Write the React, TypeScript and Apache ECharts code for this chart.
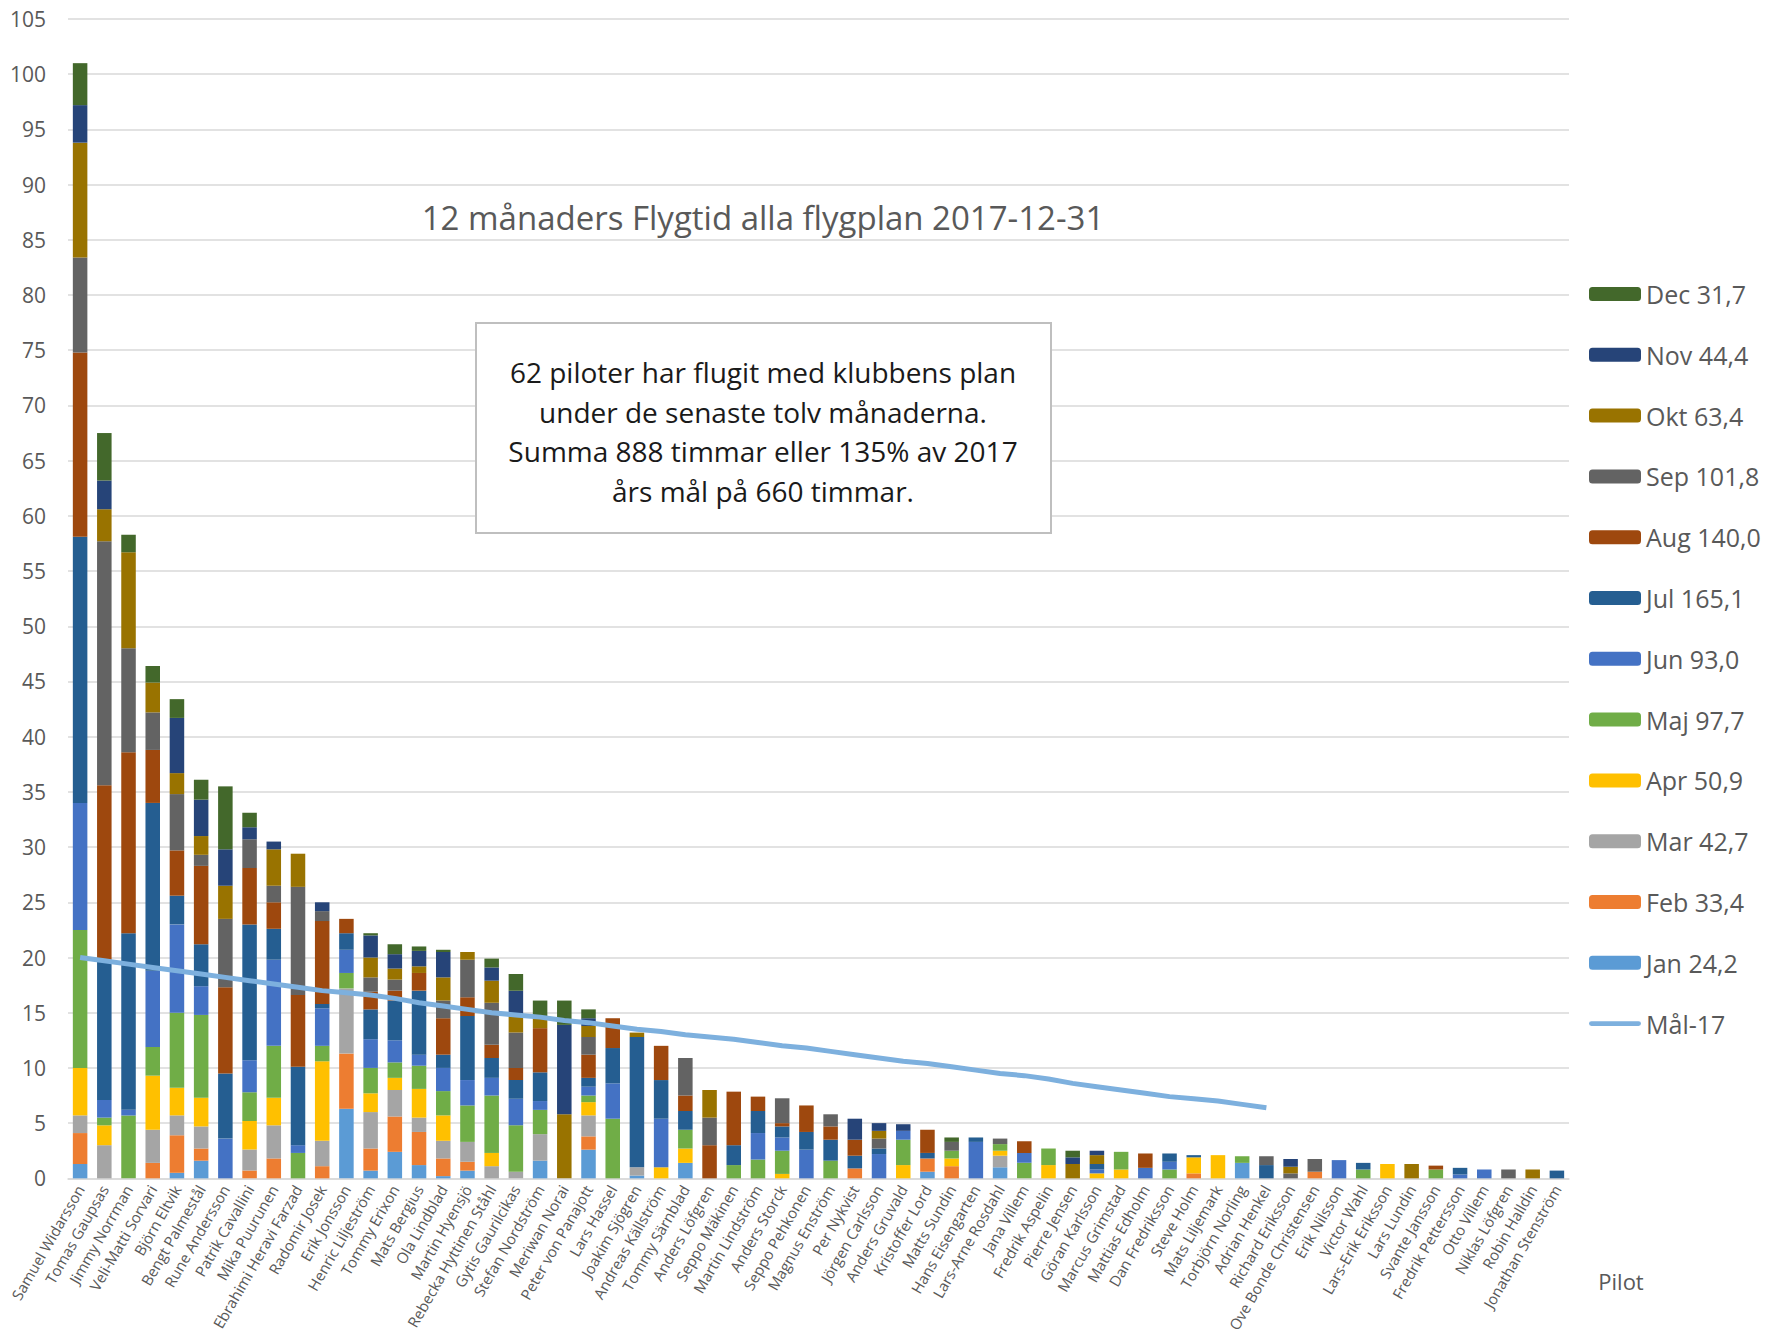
import React, { useEffect, useRef } from "react";
import * as echarts from "echarts";

const pilots = [
  "Samuel Widarsson", "Tomas Gaupsas", "Jimmy Norrman", "Veli-Matti Sorvari", "Björn Eltvik",
  "Bengt Palmestål", "Rune Andersson", "Patrik Cavallini", "Mika Puurunen", "Ebrahimi Heravi Farzad",
  "Radomir Josek", "Erik Jonsson", "Henric Liljeström", "Tommy Erixon", "Mats Bergius",
  "Ola Lindblad", "Martin Hyensjö", "Rebecka Hyttinen Ståhl", "Gytis Gaurilcikas", "Stefan Nordström",
  "Meriwan Norai", "Peter von Panajott", "Lars Hassel", "Joakim Sjögren", "Andreas Källström",
  "Tommy Särnblad", "Anders Löfgren", "Seppo Mäkinen", "Martin Lindström", "Anders Storck",
  "Seppo Pehkonen", "Magnus Enström", "Per Nykvist", "Jörgen Carlsson", "Anders Gruvald",
  "Kristoffer Lord", "Matts Sundin", "Hans Eisengarten", "Lars-Arne Rosdahl", "Jana Villem",
  "Fredrik Aspelin", "Pierre Jensen", "Göran Karlsson", "Marcus Grimstad", "Mattias Edholm",
  "Dan Fredriksson", "Steve Holm", "Mats Liljemark", "Torbjörn Norling", "Adrian Henkel",
  "Richard Eriksson", "Ove Bonde Christensen", "Erik Nilsson", "Victor Wahl", "Lars-Erik Eriksson",
  "Lars Lundin", "Svante Jansson", "Fredrik Pettersson", "Otto Villem", "Niklas Löfgren",
  "Robin Halldin", "Jonathan Stenström",
];

const jan = [
  1.3, 0, 0, 0, 0.5, 1.6, 0, 0, 0, 0,
  0, 6.3, 0.7, 2.4, 1.2, 0.2, 0.7, 0, 0, 1.6,
  0, 2.6, 0, 0.25, 0, 1.4, 0, 0, 0, 0,
  0, 0, 0, 0, 0, 0.6, 0, 0, 1.0, 0,
  0, 0, 0, 0, 0, 0, 0, 0, 1.4, 0,
  0, 0, 0, 0, 0, 0, 0, 0, 0, 0,
  0, 0,
];
const feb = [
  2.8, 0, 0, 1.4, 3.4, 1.1, 0, 0.7, 1.8, 0,
  1.1, 5.0, 2.0, 3.2, 3.0, 1.6, 0.8, 0, 0, 0,
  0, 1.2, 0, 0, 0, 0, 0, 0, 0, 0,
  0, 0, 0.9, 0, 0, 1.2, 1.1, 0, 0, 0,
  0, 0, 0, 0, 0, 0, 0.45, 0, 0, 0,
  0, 0.6, 0, 0, 0, 0, 0, 0, 0, 0,
  0, 0,
];
const mar = [
  1.6, 3.0, 0, 3.0, 1.8, 2.0, 0, 1.9, 3.0, 0,
  2.3, 5.9, 3.3, 2.4, 1.3, 1.6, 1.8, 1.1, 0.6, 2.4,
  0, 1.9, 0, 0.75, 0, 0, 0, 0, 0, 0,
  0, 0, 0, 0, 0, 0, 0, 0, 1.05, 0,
  0, 0, 0, 0, 0, 0, 0, 0, 0, 0,
  0, 0, 0, 0, 0, 0, 0, 0, 0, 0,
  0, 0,
];
const apr = [
  4.3, 1.8, 0, 4.9, 2.5, 2.6, 0, 2.6, 2.5, 0,
  7.2, 0, 1.7, 1.1, 2.6, 2.3, 0, 1.2, 0, 0,
  0, 1.2, 0, 0, 1.0, 1.3, 0, 0, 0, 0.4,
  0, 0, 0, 0, 1.2, 0, 0.7, 0, 0.45, 0,
  1.2, 0, 0.45, 0.8, 0, 0, 1.45, 2.1, 0, 0,
  0, 0, 0, 0, 1.3, 0, 0, 0, 0, 0,
  0, 0,
];
const maj = [
  12.5, 0.7, 5.7, 2.6, 6.8, 7.5, 0, 2.6, 4.7, 2.3,
  1.4, 1.4, 2.3, 1.4, 2.1, 2.2, 3.3, 5.2, 4.2, 2.2,
  0, 0.6, 5.4, 0, 0, 1.7, 0, 1.2, 1.7, 2.1,
  0, 1.6, 0, 0, 2.3, 0, 0.7, 0, 0.6, 1.4,
  1.5, 0, 0, 1.6, 0, 0.8, 0, 0, 0.6, 0,
  0, 0, 0, 0.8, 0, 0, 0.8, 0, 0, 0,
  0, 0,
];
const jun = [
  11.5, 1.6, 0.5, 6.9, 8.0, 2.6, 3.6, 2.9, 7.8, 0.7,
  3.4, 2.1, 2.6, 2.0, 1.0, 2.1, 2.3, 1.6, 2.4, 0.8,
  0, 0.8, 3.2, 0, 4.4, 0, 0, 0, 2.4, 1.2,
  2.6, 0, 0, 2.2, 0.8, 0, 0, 3.3, 0, 0.9,
  0, 0, 0.35, 0, 0.95, 0.7, 0, 0, 0, 0,
  0, 0, 1.65, 0, 0, 0, 0, 0.35, 0.8, 0,
  0, 0,
];
const jul = [
  24.1, 12.7, 16.0, 15.2, 2.6, 3.8, 5.9, 12.3, 2.8, 7.1,
  0.4, 1.5, 2.7, 3.6, 5.8, 1.2, 5.8, 1.8, 1.7, 2.6,
  0, 0.8, 3.2, 11.8, 3.5, 1.7, 0, 1.8, 2.0, 1.0,
  1.6, 1.9, 1.15, 0.5, 0, 0.5, 0, 0.4, 0, 0,
  0, 0, 0.5, 0, 0, 0.75, 0.2, 0, 0, 1.2,
  0, 0, 0, 0.6, 0, 0, 0, 0.6, 0, 0,
  0, 0.7,
];
const aug = [
  16.7, 15.8, 16.4, 4.8, 4.1, 7.1, 7.8, 5.1, 2.4, 6.5,
  7.5, 1.3, 1.6, 0.9, 1.6, 3.3, 1.7, 1.2, 1.1, 4.0,
  0, 2.1, 2.7, 0, 3.1, 1.4, 3.0, 4.85, 1.3, 0.3,
  2.4, 1.2, 1.45, 0, 0, 2.1, 0, 0, 0, 1.05,
  0, 0, 0, 0, 1.3, 0, 0, 0, 0, 0,
  0, 0, 0, 0, 0, 0, 0.35, 0, 0, 0,
  0, 0,
];
const sep = [
  8.6, 22.1, 9.4, 3.4, 5.1, 1.0, 6.2, 2.6, 1.5, 9.8,
  0.9, 0, 1.3, 1.0, 0, 1.6, 3.4, 3.8, 3.2, 0,
  0, 1.6, 0, 0, 0, 3.4, 2.5, 0, 0, 2.25,
  0, 1.1, 0, 0.9, 0, 0, 0.8, 0, 0.5, 0,
  0, 0, 0, 0, 0, 0, 0, 0, 0, 0.8,
  0.45, 1.15, 0, 0, 0, 0, 0, 0, 0, 0.8,
  0, 0,
];
const okt = [
  10.4, 2.9, 8.7, 2.7, 1.9, 1.7, 3.0, 0, 3.3, 3.0,
  0, 0, 1.8, 1.0, 0.6, 2.1, 0.7, 2.0, 1.5, 0.9,
  5.8, 1.0, 0, 0.4, 0, 0, 2.5, 0, 0, 0,
  0, 0, 0, 0.7, 0, 0, 0, 0, 0, 0,
  0, 1.3, 0.8, 0, 0, 0, 0, 0, 0, 0,
  0.6, 0, 0, 0, 0, 1.3, 0, 0, 0, 0,
  0.8, 0,
];
const nov = [
  3.4, 2.6, 0, 0, 5.0, 3.3, 3.3, 1.1, 0.7, 0,
  0.8, 0, 2.0, 1.3, 1.4, 2.3, 0, 1.2, 2.3, 0,
  8.1, 0.7, 0, 0, 0, 0, 0, 0, 0, 0,
  0, 0, 1.9, 0.7, 0.6, 0, 0, 0, 0, 0,
  0, 0.6, 0.4, 0, 0, 0, 0, 0, 0, 0,
  0.7, 0, 0, 0, 0, 0, 0, 0, 0, 0,
  0, 0,
];
const dec = [
  3.8, 4.3, 1.6, 1.5, 1.7, 1.8, 5.7, 1.3, 0, 0,
  0, 0, 0.2, 0.9, 0.4, 0.2, 0, 0.8, 1.5, 1.6,
  2.2, 0.8, 0, 0, 0, 0, 0, 0, 0, 0,
  0, 0, 0, 0, 0, 0, 0.4, 0, 0, 0,
  0, 0.6, 0, 0, 0, 0, 0, 0, 0, 0,
  0, 0, 0, 0, 0, 0, 0, 0, 0, 0,
  0, 0,
];

const goal = [
  20.0, 19.7, 19.4, 19.1, 18.8, 18.5, 18.2, 17.9, 17.6, 17.3, 17.0, 16.8,
  16.6, 16.3, 15.9, 15.6, 15.3, 15.0, 14.8, 14.6, 14.3, 14.1, 13.8, 13.5, 13.3, 13.0,
  12.8, 12.6, 12.3, 12.0, 11.8, 11.5, 11.2, 10.9, 10.6, 10.4, 10.1, 9.8, 9.5, 9.3,
  9.0, 8.6, 8.3, 8.0, 7.7, 7.4, 7.2, 7.0, 6.7, 6.4,
];

const monthNames = [
  "Jan 24,2", "Feb 33,4", "Mar 42,7", "Apr 50,9", "Maj 97,7", "Jun 93,0",
  "Jul 165,1", "Aug 140,0", "Sep 101,8", "Okt 63,4", "Nov 44,4", "Dec 31,7",
];
const goalName = "Mål-17";
const monthColors = [
  "#5B9BD5", "#ED7D31", "#A5A5A5", "#FFC000", "#70AD47", "#4472C4",
  "#255E91", "#9E480E", "#636363", "#997300", "#264478", "#43682B",
];
const goalColor = "#7DB0DE";

const titleText = "12 månaders Flygtid alla flygplan 2017-12-31";
const noteLines = [
  "62 piloter har flugit med klubbens plan",
  "under de senaste tolv månaderna.",
  "Summa 888 timmar eller 135% av 2017",
  "års mål på 660 timmar.",
];
const axisName = "Pilot";

const FONT = "'Open Sans', 'Noto Sans', sans-serif";

export default function App() {
  const ref = useRef<HTMLDivElement>(null);
  useEffect(() => {
    if (!ref.current) return;
    const chart = echarts.init(ref.current, null, { renderer: "svg" });
    const monthData = [jan, feb, mar, apr, maj, jun, jul, aug, sep, okt, nov, dec];
    const barSeries = monthData.map((d, i) => ({
      name: monthNames[i],
      type: "bar",
      stack: "total",
      barWidth: "60%",
      data: d,
      itemStyle: { color: monthColors[i] },
      emphasis: { disabled: true },
    }));
    const goalData = pilots.map((_, i) => (i < goal.length ? goal[i] : null));
    const legendData: any[] = [...monthNames].reverse().map((n) => ({ name: n }));
    legendData.push({
      name: goalName,
      icon: "path://M2,0 L50,0 A2.5,2.5 0 0 1 50,5 L2,5 A2.5,2.5 0 0 1 2,0 Z",
      itemStyle: { color: goalColor },
    });
    chart.setOption({
      animation: false,
      textStyle: { fontFamily: FONT },
      grid: { left: 68, right: 198, top: 19, bottom: 154, containLabel: false },
      legend: {
        orient: "vertical",
        left: 1589,
        top: 281.5,
        itemWidth: 52,
        itemHeight: 14,
        itemGap: 35.8,
        padding: 0,
        textStyle: { fontSize: 25, color: "#595959", lineHeight: 25, fontFamily: FONT },
        data: legendData,
      },
      xAxis: {
        type: "category",
        data: pilots,
        axisTick: { show: false },
        axisLine: { lineStyle: { color: "#d9d9d9", width: 1.5 } },
        axisLabel: {
          interval: 0,
          rotate: 60,
          fontSize: 15,
          color: "#595959",
          margin: 8,
          fontFamily: FONT,
        },
      },
      yAxis: {
        type: "value",
        min: 0,
        max: 105,
        interval: 5,
        axisLine: { show: false },
        axisTick: { show: false },
        axisLabel: { fontSize: 21, color: "#595959", margin: 22, fontFamily: FONT },
        splitLine: { lineStyle: { color: "#d9d9d9", width: 1.5 } },
      },
      series: [
        ...barSeries,
        {
          name: goalName,
          type: "line",
          data: goalData,
          symbol: "none",
          z: 5,
          lineStyle: { color: goalColor, width: 5 },
          itemStyle: { color: goalColor },
          emphasis: { disabled: true },
        },
      ],
      graphic: [
        {
          type: "text",
          x: 763,
          y: 217,
          style: {
            text: titleText,
            fontSize: 33,
            fill: "#595959",
            fontFamily: FONT,
            textAlign: "center",
            textVerticalAlign: "middle",
          },
        },
        {
          type: "rect",
          shape: { x: 476, y: 323, width: 575, height: 210 },
          style: { fill: "#ffffff", stroke: "#bfbfbf", lineWidth: 2 },
          z: 10,
        },
        ...noteLines.map((t, i) => ({
          type: "text",
          x: 763,
          y: 372 + i * 39.5,
          z: 11,
          style: {
            text: t,
            fontSize: 28,
            fill: "#1a1a1a",
            fontFamily: FONT,
            textAlign: "center",
            textVerticalAlign: "middle",
          },
        })),
        {
          type: "text",
          x: 1621,
          y: 1281,
          style: {
            text: axisName,
            fontSize: 22,
            fill: "#595959",
            fontFamily: FONT,
            textAlign: "center",
            textVerticalAlign: "middle",
          },
        },
      ],
    });
    return () => chart.dispose();
  }, []);
  return (
    <div
      ref={ref}
      style={{ position: "fixed", left: 0, top: 0, width: 1767, height: 1335, background: "#ffffff" }}
    />
  );
}
